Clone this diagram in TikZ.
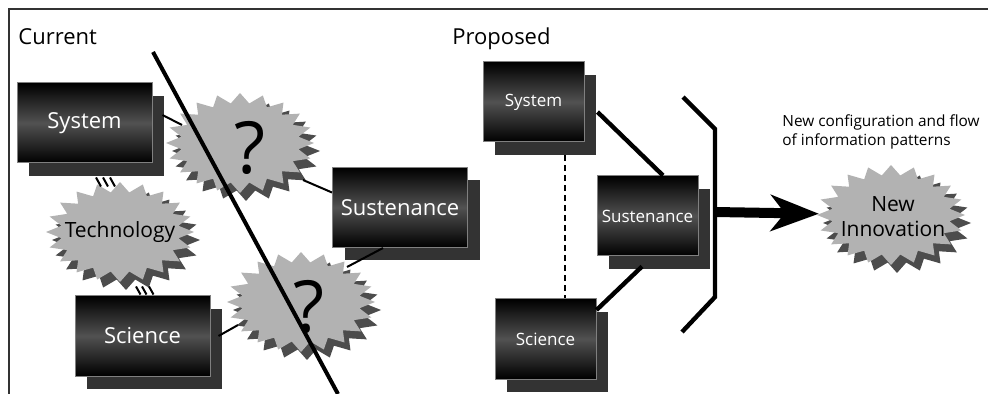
\documentclass[tikz,border=0pt]{standalone}
\usepackage{fontspec}
\setmainfont{Open Sans}
\usetikzlibrary{shapes.geometric,shadows,arrows.meta}

\tikzset{
  heading/.style={anchor=base west, inner sep=0pt, font=\fontsize{11}{13}\selectfont},
  block/.style={rectangle, draw=black!50, line width=0.5pt, top color=black, bottom color=black,
    middle color=black!68, text=white, inner sep=0pt, minimum height=40pt,
    drop shadow={shadow xshift=6pt, shadow yshift=-6.5pt, fill=black!80, opacity=1}},
  bigblock/.style={block, minimum width=67.5pt, font=\fontsize{11}{13}\selectfont},
  smallblock/.style={block, minimum width=50.5pt, font=\fontsize{8.5}{10}\selectfont},
  burst/.style={star, star points=20, star point ratio=1.25, minimum size=50pt, inner sep=0pt,
    fill=black!30, xscale=1.48, transform shape,
    drop shadow={shadow xshift=3pt, shadow yshift=-4pt, fill=black!70, opacity=1}},
  bursttext/.style={inner sep=0pt, align=center, font=\fontsize{10.5}{12.5}\selectfont},
  query/.style={inner sep=0pt, font=\fontsize{36}{36}\selectfont},
  link/.style={line width=1pt},
  strong/.style={line width=2.2pt},
  flow/.style={line width=5pt, -{Stealth[length=24pt,width=18pt,inset=7pt]}}
}

\begin{document}
\begin{tikzpicture}[x=0.5pt,y=-0.5pt]
\useasboundingbox (0,0) rectangle (988,394);
\draw[black!80, line width=1.2pt] (9,394) -- (9,9) -- (988,9);

% current
\node[heading] (current) at (18,45) {Current};
\node[burst] (q1) at (240,143) {};
\node[burst] (tech) at (120,232) {};
\node[burst] (q2) at (301,302) {};
\node[bursttext] (techtxt) at (tech) {Technology};
\node[query] (q1txt) at ([xshift=5pt,yshift=-2.5pt]q1) {?};
\node[query] (q2txt) at ([xshift=4pt,yshift=-2.5pt]q2) {?};
\node[bigblock] (sys1) at (84.5,123) {System};
\node[bigblock] (sus1) at (400,207.5) {Sustenance};
\node[bigblock] (sci1) at (142.5,336) {Science};

\draw[link] ([xshift=5pt,yshift=4pt]sys1.east) -- ([xshift=-29pt,yshift=9pt]q1.center);
\draw[link] ([xshift=31.5pt,yshift=-18.5pt]q1.center) -- ([yshift=7.5pt]sus1.west);
\draw[link] ([xshift=-8.5pt]sus1.south) -- ([xshift=23pt,yshift=17.5pt]q2.center);
\draw[link] ([xshift=4pt]sci1.east) -- ([xshift=-31.5pt,yshift=-11.5pt]q2.center);
\foreach \d in {0,3.5,7}
  \draw[link] ([xshift=\d pt+5.75pt,yshift=-7pt]sys1.south) -- ++(2.5pt,-4.5pt);
\foreach \d in {0,3,6.5}
  \draw[link] ([xshift=\d pt-3.25pt,yshift=4.5pt]sci1.north) -- ++(2.25pt,-4pt);

\draw[line width=2pt] (153,52) -- (338,394);

% proposed
\node[heading] (proposed) at (452,45) {Proposed};
\node[smallblock] (sys2) at (533.5,102) {System};
\node[smallblock] (sus2) at (647.5,216) {Sustenance};
\node[smallblock] (sci2) at (545.5,339) {Science};
\draw[link, dash pattern=on 3pt off 2pt] ([xshift=15.75pt,yshift=-6.5pt]sys2.south) -- ([xshift=9.75pt]sci2.north);
\draw[strong] ([xshift=6.5pt,yshift=-5pt]sys2.east) -- ([xshift=7.75pt]sus2.north);
\draw[strong] ([xshift=-2.75pt,yshift=-5pt]sus2.south) -- ([yshift=14.5pt]sci2.east);

\draw[strong, line join=miter] (683,97) -- (715,129) -- (715,297) -- (682,332);
\coordinate (merge) at (715,212);
\node[anchor=base west, inner sep=0pt, align=left, font=\fontsize{7.7}{9.5}\selectfont] (note) at (782,146)
  {New configuration and flow\\of information patterns};
\node[burst] (inno) at (891,215) {};
\node[bursttext] (innotxt) at (893,217) {New\\Innovation};
\draw[flow] (merge) -- (inno);
\end{tikzpicture}
\end{document}
